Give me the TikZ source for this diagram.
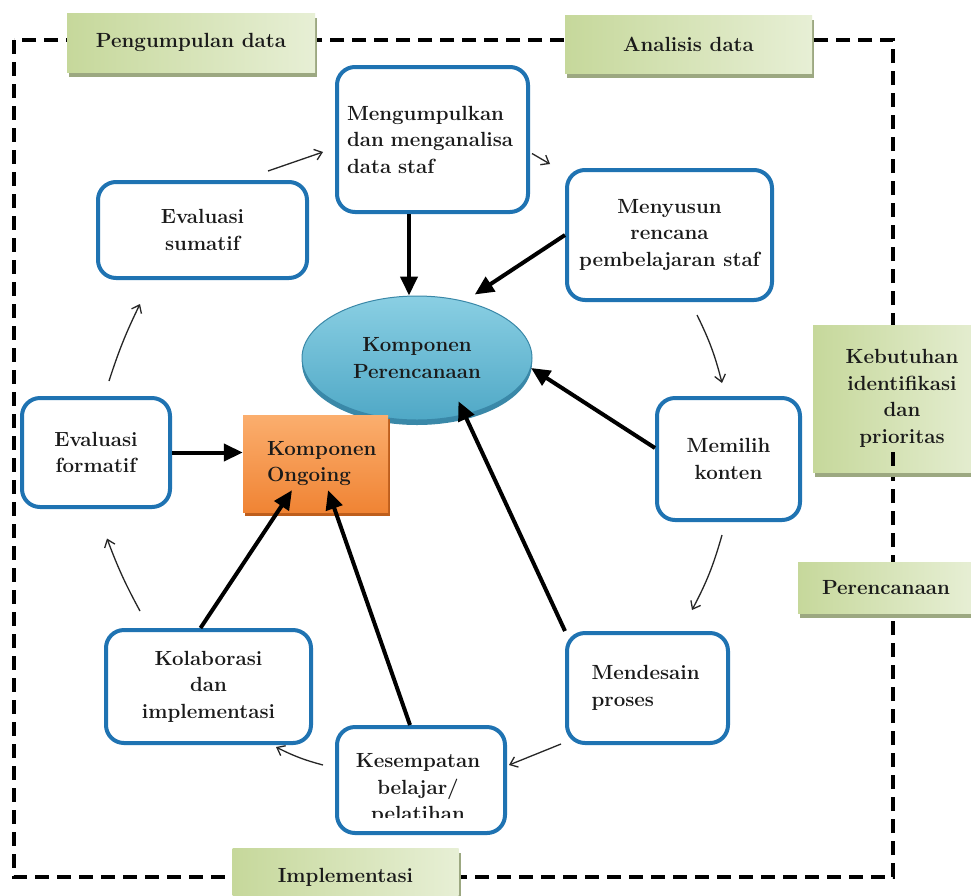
\documentclass[tikz,border=0pt]{standalone}
\usetikzlibrary{arrows.meta,shapes.geometric,shadows}

\definecolor{boxblue}{HTML}{1F73B2}
\definecolor{tagA}{HTML}{C6D89B}
\definecolor{tagB}{HTML}{E7EFD5}
\definecolor{tagshade}{HTML}{9CA881}
\definecolor{ellA}{HTML}{8ACFE3}
\definecolor{ellB}{HTML}{4FA8C6}
\definecolor{ellEdge}{HTML}{3A88A8}
\definecolor{orA}{HTML}{FBAE6E}
\definecolor{orB}{HTML}{F08434}
\definecolor{orEdge}{HTML}{BE5E1C}
\definecolor{ink}{HTML}{1A1A1A}

\tikzset{
  txt/.style={font=\bfseries\fontsize{20.5}{26.5}\selectfont, text=ink},
  stepbox/.style={txt, draw=boxblue, line width=4pt, rounded corners=18pt,
    fill=white, align=center, inner sep=0pt},
  tagbox/.style={txt, rectangle, inner sep=0pt, align=center,
    left color=tagA, right color=tagB,
    drop shadow={shadow xshift=2pt, shadow yshift=-5pt, opacity=1, fill=tagshade}},
  frameline/.style={line width=4pt, dash pattern=on 14pt off 8pt},
  bigarrow/.style={-{Triangle[length=19pt,width=17pt]}, line width=4pt, draw=black},
  smallarrow/.style={-{Straight Barb[length=7pt,width=11pt]}, line width=1.3pt, draw=black!85}
}

\begin{document}
\begin{tikzpicture}[x=1pt, y=-1pt]
\useasboundingbox (0,0) rectangle (971,895);
\clip (0,0) rectangle (971,895);
\fill[white] (0,0) rectangle (971,895);

% dashed outer frame
\draw[frameline] (14,40) rectangle (893,877);

% phase labels on the frame
\node[tagbox, minimum width=248pt, minimum height=59pt] (gather) at (191,42.5) {Pengumpulan data};
\node[tagbox, minimum width=247pt, minimum height=58pt] (analysis) at (688.5,44) {Analisis data};
\node[tagbox, minimum width=178pt, minimum height=147pt] (needs) at (902,398.5) {Kebutuhan\\identifikasi\\dan\\prioritas};
\node[tagbox, minimum width=176pt, minimum height=51pt] (planning) at (886,587.5) {Perencanaan};
\node[tagbox, minimum width=226pt, minimum height=58pt] (impl) at (345.5,877) {Implementasi};
\draw[frameline] (893,452) -- (893,472);

% cycle steps
\node[stepbox, minimum width=191pt, minimum height=145pt, text width=171pt, align=left] (collect) at (432.5,139.5) {Mengumpulkan\\dan menganalisa\\data staf};
\node[stepbox, minimum width=205pt, minimum height=130pt] (plan) at (669.5,235) {Menyusun\\rencana\\pembelajaran staf};
\node[stepbox, minimum width=209pt, minimum height=96pt] (sumatif) at (202.5,230) {Evaluasi\\sumatif};
\node[stepbox, minimum width=143pt, minimum height=122pt] (content) at (728.5,459) {Memilih\\konten};
\node[stepbox, minimum width=148pt, minimum height=109pt] (formatif) at (96,452.5) {Evaluasi\\formatif};
\node[stepbox, minimum width=205pt, minimum height=113pt] (collab) at (208.5,686.5) {Kolaborasi\\dan\\implementasi};
\node[stepbox, minimum width=161pt, minimum height=110pt, text width=112pt, align=left] (design) at (647.5,688) {Mendesain\\proses};
\node[stepbox, minimum width=168pt, minimum height=106pt] (learn) at (421,780) {};
\begin{scope}
  \clip (learn.north west) rectangle ([shift={(0,-18)}]learn.south east);
  \node[txt, align=center, inner sep=0pt] (learntext) at ([shift={(-3,9)}]learn.center) {Kesempatan\\belajar/\\pelatihan};
\end{scope}

% central components
\node[txt, ellipse, minimum width=230pt, minimum height=124pt, inner sep=0pt, align=center,
  top color=ellA, bottom color=ellB, draw=ellEdge, line width=1pt,
  drop shadow={shadow xshift=0pt, shadow yshift=-5pt, opacity=1, fill=ellEdge}] (pp) at (417,358) {Komponen\\Perencanaan};
\node[txt, rectangle, minimum width=145pt, minimum height=97pt, inner sep=0pt, text width=97pt, align=left,
  top color=orA, bottom color=orB,
  drop shadow={shadow xshift=2pt, shadow yshift=-4pt, opacity=1, fill=orEdge}] (og) at (315.5,463.5) {Komponen\\Ongoing};

% links into the components
\draw[bigarrow] ([shift={(-23.5,0)}]collect.south) -- ([shift={(-8,0)}]pp.north);
\draw[bigarrow, shorten >=12pt] (plan.west) -- (pp.50);
\draw[bigarrow] ([shift={(0,-11)}]content.west) -- (pp.-5);
\draw[bigarrow, shorten >=-15pt] (design.north west) -- (pp.-50);
\draw[bigarrow] (formatif.east) -- (formatif.east -| og.west);
\draw[bigarrow] ([shift={(-8,0)}]collab.north) -- ([shift={(-23.5,-22)}]og.south);
\draw[bigarrow] ([shift={(-11,0)}]learn.north) -- ([shift={(12.5,-22)}]og.south);

% cycle arrows
\draw[smallarrow] ([shift={(65.5,-9)}]sumatif.north) -- ([shift={(-12,12.5)}]collect.west);
\draw[smallarrow] ([shift={(2,14)}]collect.east) -- ([shift={(-15,-4)}]plan.north west);
\draw[smallarrow] ([shift={(27.5,13)}]plan.south) to[bend left=6] ([shift={(-6.5,-13)}]content.north);
\draw[smallarrow] ([shift={(-6.5,13)}]content.south) to[bend left=6] ([shift={(44.5,-21)}]design.north);
\draw[smallarrow] ([shift={(-4,-1)}]design.south west) -- ([shift={(2,-15)}]learn.east);
\draw[smallarrow] ([shift={(-12,-15)}]learn.west) to[bend left=6] ([shift={(-37,2)}]collab.south east);
\draw[smallarrow] ([shift={(-68.5,-17)}]collab.north) to[bend left=4] ([shift={(11,29.5)}]formatif.south);
\draw[smallarrow] ([shift={(13,-15)}]formatif.north) to[bend left=4] ([shift={(-62.5,24)}]sumatif.south);
\end{tikzpicture}
\end{document}
